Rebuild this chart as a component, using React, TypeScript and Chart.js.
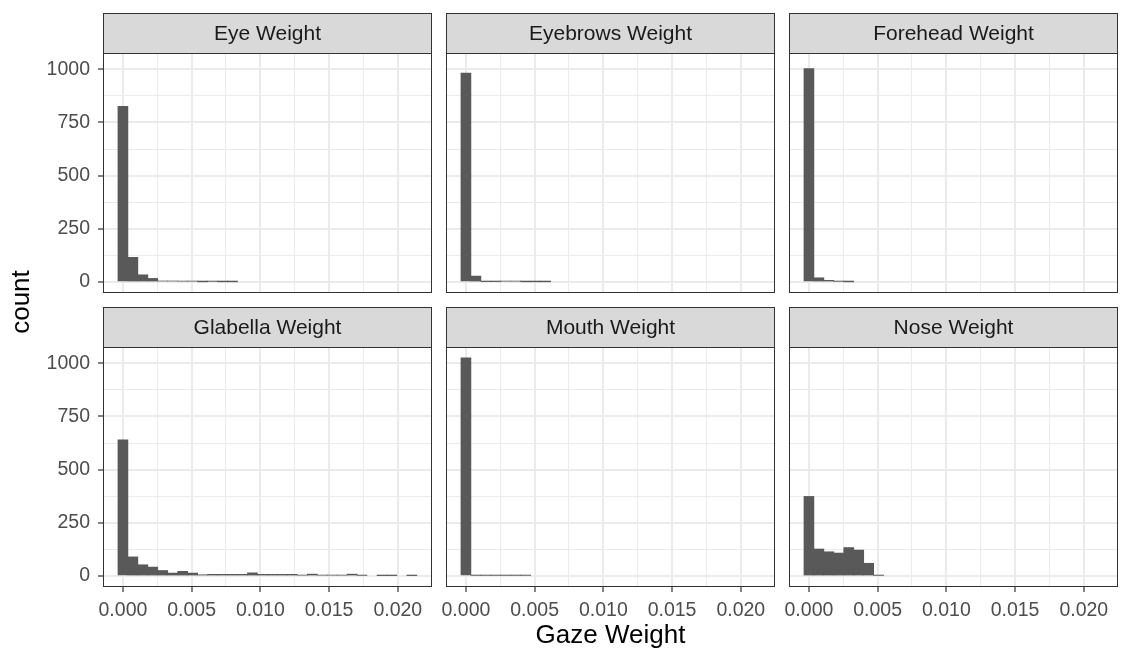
import React, { useEffect, useRef } from 'react';
import { Chart, registerables } from 'chart.js';

Chart.register(...registerables);

const W = 1121;
const H = 653;

// histogram bin centres (Gaze Weight)
const BIN_CENTERS = [
  0, 0.000725, 0.00145, 0.002175, 0.0029, 0.003625, 0.00435, 0.005075, 0.0058, 0.006525,
  0.00725, 0.007975, 0.0087, 0.009425, 0.01015, 0.010875, 0.0116, 0.012325, 0.01305, 0.013775,
  0.0145, 0.015225, 0.01595, 0.016675, 0.0174, 0.018125, 0.01885, 0.019575, 0.0203, 0.021025,
];

// counts per bin, one array per facet
const EYE = [825, 116, 34, 17, 5, 5, 4, 4, 1, 3, 1, 1, 0, 0, 0, 0, 0, 0, 0, 0, 0, 0, 0, 0, 0, 0, 0, 0, 0, 0];
const EYEBROWS = [982, 28, 2, 2, 4, 4, 1, 1, 1, 0, 0, 0, 0, 0, 0, 0, 0, 0, 0, 0, 0, 0, 0, 0, 0, 0, 0, 0, 0, 0];
const FOREHEAD = [1003, 20, 8, 3, 1, 0, 0, 0, 0, 0, 0, 0, 0, 0, 0, 0, 0, 0, 0, 0, 0, 0, 0, 0, 0, 0, 0, 0, 0, 0];
const GLABELLA = [640, 90, 53, 42, 26, 14, 22, 14, 6, 8, 8, 8, 8, 15, 8, 8, 8, 8, 4, 9, 4, 4, 4, 9, 3, 0, 2, 2, 0, 2];
const MOUTH = [1025, 3, 3, 3, 3, 3, 3, 0, 0, 0, 0, 0, 0, 0, 0, 0, 0, 0, 0, 0, 0, 0, 0, 0, 0, 0, 0, 0, 0, 0];
const NOSE = [374, 127, 114, 108, 134, 122, 60, 3, 0, 0, 0, 0, 0, 0, 0, 0, 0, 0, 0, 0, 0, 0, 0, 0, 0, 0, 0, 0, 0, 0];

const PANEL_TITLES = ['Eye Weight', 'Eyebrows Weight', 'Forehead Weight', 'Glabella Weight', 'Mouth Weight', 'Nose Weight'];
const PANEL_DATA = [EYE, EYEBROWS, FOREHEAD, GLABELLA, MOUTH, NOSE];

const X_MAJOR = [0, 0.005, 0.01, 0.015, 0.02];
const X_LABELS = ['0.000', '0.005', '0.010', '0.015', '0.020'];
const X_MINOR = [0.0025, 0.0075, 0.0125, 0.0175];
const Y_MAJOR = [0, 250, 500, 750, 1000];
const Y_LABELS = ['0', '250', '500', '750', '1000'];
const Y_MINOR = [125, 375, 625, 875];

const X_MIN = -0.00145;
const X_MAX = 0.02249;
const Y_MIN = -51.5;
const Y_MAX = 1076;

const X_TITLE = 'Gaze Weight';
const Y_TITLE = 'count';

// layout
const COL_LEFT = [103, 446, 789];
const PANEL_W = 329;
const ROW_TOP = [53, 347];
const PANEL_H = 240;
const STRIP_H = 40;
const Y_AXIS_W = 90;
const X_AXIS_H = 40;

const FONT = '"Liberation Sans", Arial, Helvetica, sans-serif';
const TICK_SIZE = 19.5;
const STRIP_SIZE = 21;

const near = (a: number, b: number, tol: number) => Math.abs(a - b) < tol;
const majorIndex = (list: number[], v: number, tol: number) => list.findIndex((m) => near(m, v, tol));

const framePlugin = {
  id: 'facetFrame',
  afterDraw(chart: any, _args: any, opts: any) {
    const { ctx, chartArea: a } = chart;
    ctx.save();
    // strip
    ctx.fillStyle = '#D9D9D9';
    ctx.fillRect(a.left, a.top - STRIP_H, a.right - a.left, STRIP_H);
    ctx.strokeStyle = '#333333';
    ctx.lineWidth = 1;
    ctx.strokeRect(a.left + 0.5, a.top - STRIP_H + 0.5, a.right - a.left - 1, STRIP_H);
    // panel border
    ctx.strokeRect(a.left + 0.5, a.top + 0.5, a.right - a.left - 1, a.bottom - a.top - 1);
    // strip text
    ctx.fillStyle = '#1A1A1A';
    ctx.font = `${STRIP_SIZE}px ${FONT}`;
    ctx.textAlign = 'center';
    ctx.textBaseline = 'middle';
    ctx.fillText(opts.title, (a.left + a.right) / 2, a.top - STRIP_H / 2 + 1);
    ctx.restore();
  },
};

function Panel({ index }: { index: number }) {
  const ref = useRef<HTMLCanvasElement | null>(null);
  useEffect(() => {
    const col = index % 3;
    const row = Math.floor(index / 3);
    const left = COL_LEFT[col];
    const top = ROW_TOP[row];
    const showY = col === 0;
    const showX = row === 1;
    const counts = PANEL_DATA[index];
    const xTicks = [...X_MAJOR, ...X_MINOR].sort((p, q) => p - q);
    const yTicks = [...Y_MAJOR, ...Y_MINOR].sort((p, q) => p - q);

    const chart = new Chart(ref.current as HTMLCanvasElement, {
      type: 'bar',
      data: {
        datasets: [
          {
            // empty bins are left undrawn, as in a histogram
            data: BIN_CENTERS.map((x, i) => ({ x, y: counts[i] > 0 ? counts[i] : null })),
            backgroundColor: '#595959',
            borderWidth: 0,
            barPercentage: 1,
            categoryPercentage: 1,
          },
        ],
      },
      plugins: [framePlugin],
      options: {
        responsive: false,
        animation: false,
        events: [],
        layout: {
          padding: {
            left: showY ? left - Y_AXIS_W : left,
            top,
            right: W - (left + PANEL_W),
            bottom: showX ? H - (top + PANEL_H) - X_AXIS_H : H - (top + PANEL_H),
          },
        },
        plugins: {
          legend: { display: false },
          tooltip: { enabled: false },
          title: { display: false },
          facetFrame: { title: PANEL_TITLES[index] },
        } as any,
        scales: {
          x: {
            type: 'linear',
            offset: false,
            min: X_MIN,
            max: X_MAX,
            afterBuildTicks: (scale: any) => {
              scale.ticks = xTicks.map((value) => ({ value }));
            },
            afterFit: (scale: any) => {
              scale.height = showX ? X_AXIS_H : 0;
            },
            border: { display: false },
            grid: {
              display: true,
              offset: false,
              drawOnChartArea: true,
              drawTicks: showX,
              tickLength: 5,
              tickWidth: 1.2,
              color: '#EBEBEB',
              lineWidth: (ctx: any) => (majorIndex(X_MAJOR, ctx.tick?.value, 1e-6) >= 0 ? 2 : 1),
              tickColor: (ctx: any) => (majorIndex(X_MAJOR, ctx.tick?.value, 1e-6) >= 0 ? '#333333' : 'rgba(0,0,0,0)'),
            },
            ticks: {
              display: showX,
              autoSkip: false,
              maxRotation: 0,
              minRotation: 0,
              padding: 7,
              color: '#4D4D4D',
              font: { family: FONT, size: TICK_SIZE },
              callback: (v: any) => {
                const k = majorIndex(X_MAJOR, Number(v), 1e-6);
                return k >= 0 ? X_LABELS[k] : '';
              },
            },
          },
          y: {
            type: 'linear',
            min: Y_MIN,
            max: Y_MAX,
            afterBuildTicks: (scale: any) => {
              scale.ticks = yTicks.map((value) => ({ value }));
            },
            afterFit: (scale: any) => {
              scale.width = showY ? Y_AXIS_W : 0;
            },
            border: { display: false },
            grid: {
              display: true,
              drawOnChartArea: true,
              drawTicks: showY,
              tickLength: 5,
              tickWidth: 1.2,
              color: '#EBEBEB',
              lineWidth: (ctx: any) => (majorIndex(Y_MAJOR, ctx.tick?.value, 0.01) >= 0 ? 2 : 1),
              tickColor: (ctx: any) => (majorIndex(Y_MAJOR, ctx.tick?.value, 0.01) >= 0 ? '#333333' : 'rgba(0,0,0,0)'),
            },
            ticks: {
              display: showY,
              autoSkip: false,
              padding: 8,
              color: '#4D4D4D',
              font: { family: FONT, size: TICK_SIZE },
              callback: (v: any) => {
                const k = majorIndex(Y_MAJOR, Number(v), 0.01);
                return k >= 0 ? Y_LABELS[k] : '';
              },
            },
          },
        },
      } as any,
    });
    return () => chart.destroy();
  }, [index]);

  return (
    <canvas
      ref={ref}
      width={W}
      height={H}
      style={{ position: 'absolute', left: 0, top: 0, width: W, height: H }}
    />
  );
}

export default function App() {
  useEffect(() => {
    document.body.style.margin = '0';
  }, []);
  return (
    <div style={{ position: 'fixed', left: 0, top: 0, width: W, height: H, background: '#FFFFFF', overflow: 'hidden' }}>
      {PANEL_TITLES.map((_, i) => (
        <Panel key={i} index={i} />
      ))}
      <div
        style={{
          position: 'absolute',
          left: COL_LEFT[0],
          width: COL_LEFT[2] + PANEL_W - COL_LEFT[0],
          top: 619,
          height: 30,
          lineHeight: '30px',
          textAlign: 'center',
          fontFamily: FONT,
          fontSize: 26,
          color: '#000000',
        }}
      >
        {X_TITLE}
      </div>
      <div
        style={{
          position: 'absolute',
          left: 20 - 100,
          top: 302 - 15,
          width: 200,
          height: 30,
          lineHeight: '30px',
          textAlign: 'center',
          transform: 'rotate(-90deg)',
          fontFamily: FONT,
          fontSize: 26,
          color: '#000000',
        }}
      >
        {Y_TITLE}
      </div>
    </div>
  );
}
